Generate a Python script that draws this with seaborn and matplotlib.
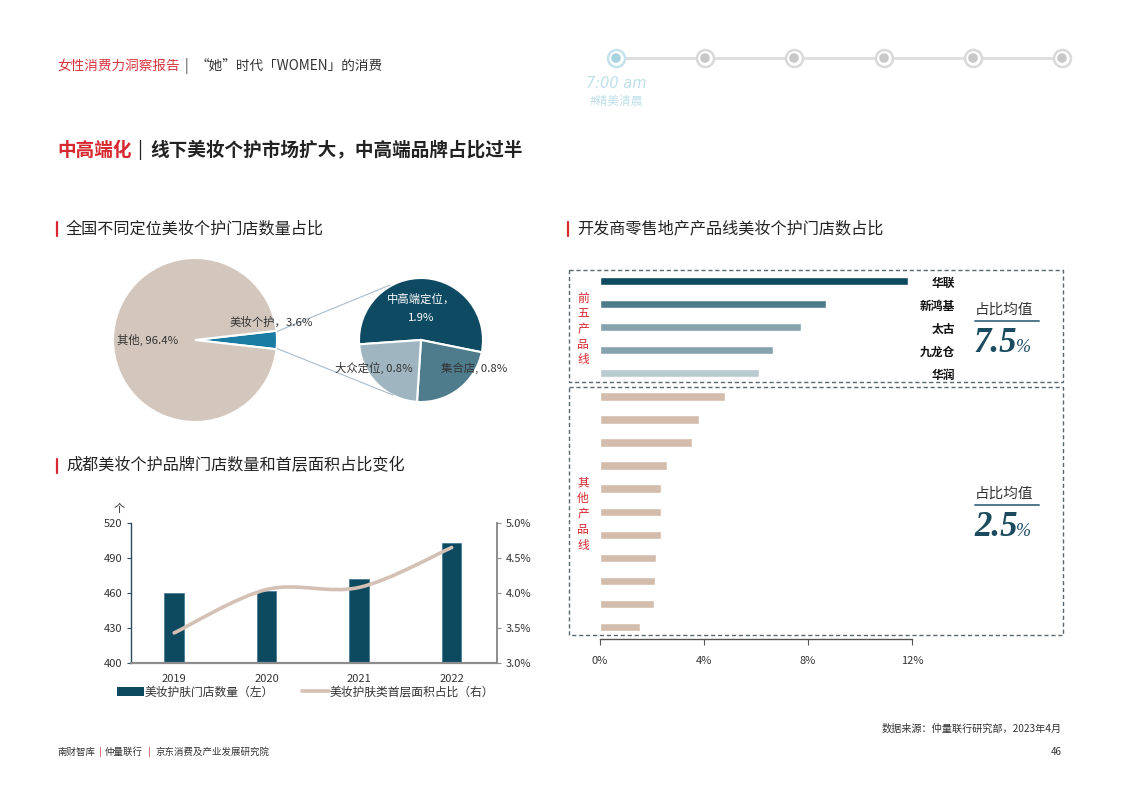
import numpy as np
import pandas as pd
import matplotlib
matplotlib.use("Agg")
import matplotlib.pyplot as plt
import seaborn as sns
from matplotlib.path import Path
from matplotlib.patches import PathPatch, Rectangle, Patch
from matplotlib.lines import Line2D
from matplotlib.ticker import FuncFormatter

# ---------------- data ----------------
pie1_labels = ["美妆个护", "其他"]
pie1_values = [3.6, 96.4]
pie2_labels = ["中高端定位", "集合店", "大众定位"]
pie2_values = [1.9, 0.8, 0.8]

years = ["2019", "2020", "2021", "2022"]
store_counts = [460, 462, 472, 503]
floor_share = [3.43, 4.05, 4.08, 4.65]

top5_names = ["华联", "新鸿基", "太古", "九龙仓", "华润"]
top5_share = [11.85, 8.69, 7.73, 6.65, 6.12]
other_names = [f"其他{i}" for i in range(1, 12)]
other_share = [4.80, 3.81, 3.55, 2.58, 2.36, 2.35, 2.33, 2.15, 2.12, 2.08, 1.53]
top5_mean = "7.5"
other_mean = "2.5"

# ---------------- style ----------------
sns.set_theme(style="white")
plt.rcParams['font.family'] = ['Noto Sans CJK SC', 'DejaVu Sans']
plt.rcParams['axes.unicode_minus'] = False

W, H = 1122, 794
fig = plt.figure(figsize=(W / 100, H / 100), dpi=100)
fig.patch.set_facecolor("white")

def fx(x):
    return x / W

def fy(y):
    return 1 - y / H

# overlay axes in pixel coordinates (y down) for decoration/text
ov = fig.add_axes([0, 0, 1, 1], zorder=-1)
ov.set_xlim(0, W)
ov.set_ylim(H, 0)
ov.axis("off")

RED = "#d7282f"
DARK = "#222222"

# header
ov.text(57, 66, "女性消费力洞察报告", color="#d9363e", fontsize=9.8, va="center", ha="left")
ov.text(185, 66, "|", color="#444444", fontsize=9.8, va="center", ha="left")
ov.text(196, 66, "“她”时代「WOMEN」的消费", color="#333333", fontsize=9.8, va="center", ha="left")

# timeline
tl_x = [616, 705, 794, 884, 973, 1062]
ov.plot([tl_x[0], tl_x[-1]], [58, 58], color="#dddddd", lw=2, zorder=1)
for i, x in enumerate(tl_x):
    ring = "#c4e2eb" if i == 0 else "#d9d9d9"
    inner = "#a7d3e0" if i == 0 else "#c8c8c8"
    ov.scatter([x], [58], s=150, facecolor="white", edgecolor=ring, linewidth=1.8, zorder=2)
    ov.scatter([x], [58], s=48, facecolor=inner, edgecolor="none", zorder=3)
ov.text(616, 84, "7:00 am", color="#bfe0e9", fontsize=10.5, style="italic",
        family="DejaVu Sans", ha="center", va="center")
ov.text(616, 101, "#精美清晨", color="#bfe0e9", fontsize=8.5, ha="center", va="center")

# main title
ov.text(57, 150, "中高端化", color=RED, fontsize=13.4, fontweight="bold", va="center", ha="left")
ov.text(137, 150, "|", color=DARK, fontsize=13.4, va="center", ha="left")
ov.text(150, 150, "线下美妆个护市场扩大，中高端品牌占比过半", color=DARK, fontsize=13.4,
        fontweight="bold", va="center", ha="left")

# section titles
def section(x, y, txt):
    ov.plot([x, x], [y - 7, y + 7], color=RED, lw=1.6)
    ov.text(x + 9, y, txt, color=DARK, fontsize=11.6, va="center", ha="left")

section(57, 229, "全国不同定位美妆个护门店数量占比")
section(57, 466, "成都美妆个护品牌门店数量和首层面积占比变化")
section(568, 229, "开发商零售地产产品线美妆个护门店数占比")

# footer
ov.text(1062, 729, "数据来源：仲量联行研究部，2023年4月", color="#333333", fontsize=7.3, ha="right", va="center")
ov.text(57, 752, "南财智库", color="#333333", fontsize=6.8, ha="left", va="center")
ov.text(99, 752, "|", color=RED, fontsize=6.8, ha="left", va="center")
ov.text(105, 752, "仲量联行", color="#333333", fontsize=6.8, ha="left", va="center")
ov.text(148, 752, "|", color=RED, fontsize=6.8, ha="left", va="center")
ov.text(156, 752, "京东消费及产业发展研究院", color="#333333", fontsize=6.8, ha="left", va="center")
ov.text(1062, 752, "46", color="#333333", fontsize=7, ha="right", va="center")

# ---------------- pies ----------------
px0, px1, py0, py1 = 100, 520, 250, 430
pa = fig.add_axes([fx(px0), fy(py1), (px1 - px0) / W, (py1 - py0) / H])
pa.patch.set_alpha(0)
c1 = (195, H - 340)
c2 = (421, H - 340)
half = pie1_values[0] / 100 * 360 / 2
pa.pie(pie1_values, colors=["#1a7ca3", "#d3c6bd"], startangle=-half, center=c1, radius=82,
       wedgeprops=dict(edgecolor="white", linewidth=1.5))
pa.pie(pie2_values, colors=["#0e4a62", "#4f7c8c", "#9fb6c1"], startangle=184, counterclock=False,
       center=c2, radius=62, wedgeprops=dict(edgecolor="white", linewidth=1.5))
pa.set_xlim(px0, px1)
pa.set_ylim(H - py1, H - py0)
pa.set_aspect("auto")
pa.axis("off")
pa.plot([277, 390], [H - 331.5, H - 285], color="#a9bccb", lw=0.8)
pa.plot([277, 393], [H - 348.5, H - 395], color="#a9bccb", lw=0.8)
pa.text(148, H - 340, f"其他, {pie1_values[1]}%", fontsize=8.2, color="#333333", ha="center", va="center")
pa.text(271, H - 322, f"{pie1_labels[0]}，{pie1_values[0]}%", fontsize=8.2, color="#333333", ha="center", va="center")
pa.text(421, H - 299, f"{pie2_labels[0]}，", fontsize=8.2, color="white", ha="center", va="center")
pa.text(421, H - 318, f"{pie2_values[0]}%", fontsize=8.2, color="white", ha="center", va="center")
pa.text(474, H - 368, f"{pie2_labels[1]}, {pie2_values[1]}%", fontsize=8.2, color="#333333", ha="center", va="center")
pa.text(374, H - 368, f"{pie2_labels[2]}, {pie2_values[2]}%", fontsize=8.2, color="#333333", ha="center", va="center")

# ---------------- combo chart ----------------
bx0, bx1, by0, by1 = 131, 497, 523, 663
ax = fig.add_axes([fx(bx0), fy(by1), (bx1 - bx0) / W, (by1 - by0) / H])
ax.patch.set_alpha(0)
df_bar = pd.DataFrame({"year": years, "count": store_counts})
sns.barplot(data=df_bar, x="year", y="count", color="#0e4a5f", width=0.21, ax=ax,
            saturation=1, edgecolor="#3f7590", linewidth=0.5)
ax.set_ylim(400, 520)
ax.set_yticks([400, 430, 460, 490, 520])
ax.set_xlim(-0.467, 3.49)
ax.set_xlabel("")
ax.set_ylabel("")
ax.spines["top"].set_visible(False)
ax.spines["right"].set_visible(False)
ax.spines["left"].set_color("#2b4a5e")
ax.spines["left"].set_linewidth(1.0)
ax.spines["bottom"].set_color("#8c8c8c")
ax.spines["bottom"].set_linewidth(1.6)
ax.tick_params(axis="y", length=3, width=0.8, color="#2b4a5e", labelsize=8, labelcolor="#333333", pad=3, left=True)
ax.tick_params(axis="x", length=0, labelsize=8, labelcolor="#333333", pad=8)
ax.text(-0.6, 528, "个", fontsize=8, color="#333333", ha="center", va="bottom", clip_on=False)

ax2 = ax.twinx()
ax2.patch.set_alpha(0)
ax2.set_ylim(3.0, 5.0)
ax2.set_yticks([3.0, 3.5, 4.0, 4.5, 5.0])
ax2.yaxis.set_major_formatter(FuncFormatter(lambda v, p: f"{v:.1f}%"))
for s in ["top", "left", "bottom"]:
    ax2.spines[s].set_visible(False)
ax2.spines["right"].set_color("#8c8c8c")
ax2.spines["right"].set_linewidth(1.4)
ax2.tick_params(axis="y", length=3, width=0.8, color="#8c8c8c", labelsize=8, labelcolor="#333333", pad=3, right=True)

# smooth (Catmull-Rom as cubic Bezier) line through the data points
xs = np.arange(len(years), dtype=float)
ys = np.array(floor_share, dtype=float)
verts = [(xs[0], ys[0])]
codes = [Path.MOVETO]
t = 1 / 6
for i in range(len(xs) - 1):
    p0 = np.array([xs[max(i - 1, 0)], ys[max(i - 1, 0)]])
    p1 = np.array([xs[i], ys[i]])
    p2 = np.array([xs[i + 1], ys[i + 1]])
    p3 = np.array([xs[min(i + 2, len(xs) - 1)], ys[min(i + 2, len(xs) - 1)]])
    c1p = p1 + (p2 - p0) * t
    c2p = p2 - (p3 - p1) * t
    verts += [tuple(c1p), tuple(c2p), tuple(p2)]
    codes += [Path.CURVE4] * 3
ax2.add_patch(PathPatch(Path(verts, codes), facecolor="none", edgecolor="#d4c0b4", lw=2.6,
                        capstyle="round"))

handles = [Patch(facecolor="#0e4a5f", edgecolor="none"),
           Line2D([0], [0], color="#d4c0b4", lw=2.6)]
fig.legend(handles, ["美妆护肤门店数量（左）", "美妆护肤类首层面积占比（右）"],
           loc="center left", bbox_to_anchor=(fx(106), fy(692)), ncol=2, frameon=False,
           fontsize=8.5, handlelength=2.3, handleheight=0.75, handletextpad=0.05,
           columnspacing=2.4, labelcolor="#333333")

# ---------------- right horizontal bar chart ----------------
rx0, rx1, ry0, ry1 = 600, 912, 270, 639
rax = fig.add_axes([fx(rx0), fy(ry1), (rx1 - rx0) / W, (ry1 - ry0) / H])
rax.patch.set_alpha(0)
names = top5_names + other_names
vals = top5_share + other_share
df_r = pd.DataFrame({"name": names, "share": vals})
palette = ["#0d4a5f", "#4e7b8a", "#86a2ad", "#86a2ad", "#b9cad1"] + ["#d3bcab"] * len(other_names)
sns.barplot(data=df_r, y="name", x="share", hue="name", palette=palette, legend=False,
            width=0.36, ax=rax, saturation=1, orient="h")
rax.set_xlim(0, 12)
rax.set_ylim(len(names) - 0.48, -0.48)
rax.set_xticks([0, 4, 8, 12])
rax.xaxis.set_major_formatter(FuncFormatter(lambda v, p: f"{v:.0f}%"))
rax.set_yticks([])
rax.set_xlabel("")
rax.set_ylabel("")
for s in ["top", "right", "left"]:
    rax.spines[s].set_visible(False)
rax.spines["bottom"].set_color("#555555")
rax.spines["bottom"].set_linewidth(1.0)
rax.tick_params(axis="x", direction="out", length=4, width=0.8, color="#555555",
                labelsize=8, labelcolor="#333333", pad=8, bottom=True)
for i, n in enumerate(top5_names):
    rax.text(13.65, i + 0.1, n, fontsize=8.5, fontweight="bold", color="#111111",
             ha="right", va="center", clip_on=False)

# dashed boxes
for (y0, y1) in [(270, 382), (387, 635)]:
    ov.add_patch(Rectangle((569, y0), 1063 - 569, y1 - y0, fill=False, ec="#5a6670",
                           lw=1.0, ls=(0, (3, 2))))

# red vertical labels
ov.text(583, 329, "\n".join("前五产品线"), color=RED, fontsize=8.5, ha="center", va="center", linespacing=1.25)
ov.text(583, 514, "\n".join("其他产品线"), color=RED, fontsize=8.5, ha="center", va="center", linespacing=1.25)

# mean callouts
def callout(y_title, y_line, y_base, num):
    ov.text(975, y_title, "占比均值", color="#333333", fontsize=10.5, ha="left", va="center")
    ov.plot([975, 1039], [y_line, y_line], color="#4f7a8a", lw=1.4)
    ov.text(974, y_base, num, color="#1b4b5f", fontsize=25, fontweight="bold", style="italic",
            family="Liberation Serif", ha="left", va="baseline")
    ov.text(1016, y_base, "%", color="#1b4b5f", fontsize=13, style="italic",
            family="Liberation Serif", ha="left", va="baseline")

callout(310, 321, 352, top5_mean)
callout(494, 505, 536, other_mean)

fig.savefig("out.png", dpi=100, facecolor="white")
